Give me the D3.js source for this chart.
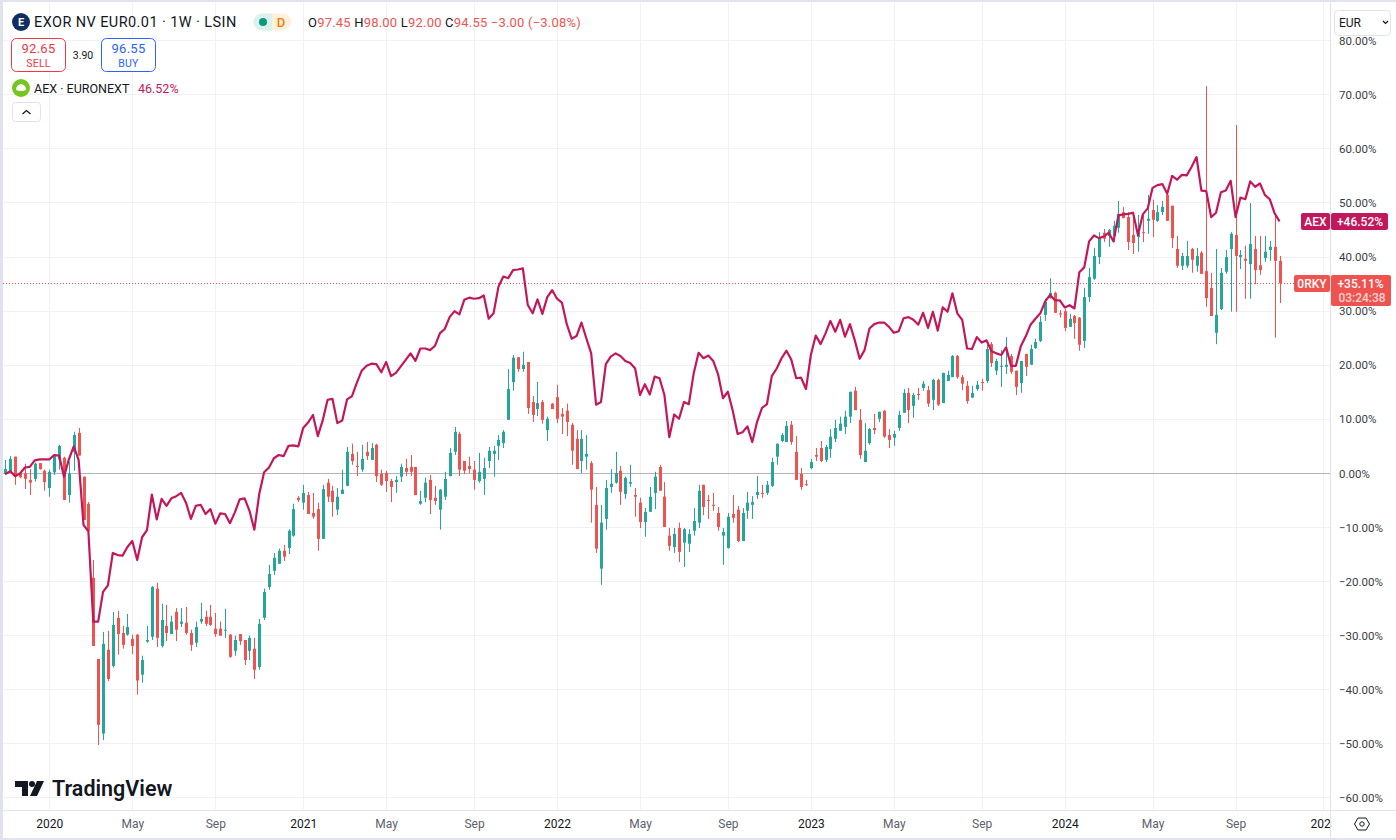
<!DOCTYPE html>
<html>
<head>
<meta charset="utf-8">
<script src="https://cdn.jsdelivr.net/npm/d3@7"></script>
<style>
    html, body { margin: 0; padding: 0; background: #fff; overflow: hidden; }
    svg { display: block; }
    text { font-family: "Roboto", "Liberation Sans", sans-serif; }
</style>
</head>
<body>
<div id="chart"></div>
<script>
// weekly candles, in percent change from the first bar
const opens = [
    -.2,.2,3,0,-.1,-1.3,-1.1,1.8,.4,-2.8,
    .1,2.5,2.8,-4.1,3.9,7.4,-.7,-5.7,-19.4,-34.4,
    -48.2,-32.7,-35.7,-26.8,-29.6,-29.9,-30.7,-29.9,-37.3,-31.2,
    -30.3,-21.4,-32,-28.3,-29.8,-25.7,-27.9,-27.7,-29.6,-31.4,
    -27.5,-26.6,-26.6,-28.8,-28.8,-29.1,-29.9,-32.9,-29.8,-30.9,
    -32.9,-32.5,-35.9,-26.8,-21.1,-18.1,-16.8,-14.4,-13.9,-11.6,
    -4.6,-5.5,-4.1,-7.4,-6.7,-12.2,-1.8,-3.3,-6.8,-3.9,
    -2.4,3.5,1.3,.6,3.9,2.4,5.2,-.2,0,-1.5,
    -1.7,-.7,.9,1.1,1.1,-5.7,-4.6,-1.3,-4.6,-6.8,
    -4.4,-.6,3.9,7.2,2.2,1.3,.6,-1.5,-1.1,2.2,
    3.5,5,5.5,9.8,16.8,21.4,19.2,20.5,13.1,11.8,
    13.1,7.9,12.8,14,10.9,11.5,8.9,6.3,2.2,3,
    1.8,-5.9,-17.7,-8.5,-2.6,-1.8,.4,-3.9,-2,-4.1,
    -5.5,-9.1,-7.2,-3.7,1.1,-4.4,-11.6,-13.7,-10.2,-12.9,
    -13.1,-10.7,-9.2,-2.2,-5,-5.9,-7.4,-11.6,-13.9,-7.6,
    -6.8,-12.6,-7,-5.9,-4.1,-3.7,-3.7,-2.4,3,5.9,
    5.7,8.9,3.9,-.2,-2.1,.9,3.3,4.6,2.4,4.4,
    6.3,7.8,8.5,10.4,15.2,9.8,2,5.5,8.3,10,
    11.5,7,6.5,8.3,11.1,14.8,12.4,14.6,15.7,15.3,
    13.5,17.2,12.9,17,17.7,21.6,17.7,16.1,13.9,15.5,
    16.8,17,23.8,18.9,19.7,19.6,21.6,18.9,16.6,22,
    20,23.1,24.4,29.2,32.3,33.3,29.5,29.9,27,29,
    28.7,24.4,32.5,35.9,39.9,44.4,43.8,43.8,45.3,48.2,
    47.3,44,43.6,44.5,46.6,48.6,46.6,48.2,51.4,49.4,
    41.4,38.3,38.3,41.4,38.3,40.7,37.3,34.2,25.9,30.3,
    37.2,41.4,44,39.9,39.6,38.6,41.4,38.4,39.7,41.2,
    41.8,39.2
];
const highs = [
    2.4,3.1,3,.2,1.7,.7,1.9,1.8,.6,.6,
    3.4,5.2,3,2.1,7.6,8.3,-.7,-5.4,-16.1,-34.4,
    -29.4,-29.2,-25.7,-25.5,-28.3,-26.1,-29.9,-29.8,-33.8,-28.3,
    -20.9,-20.3,-24.2,-24.4,-26.4,-25,-25,-24.8,-29,-27.5,
    -24,-25.5,-24.4,-25.9,-27.5,-25.1,-29.8,-30.1,-29.8,-30.9,
    -30.1,-30.5,-27,-21.4,-17,-14.8,-14,-13.3,-10.4,-5.7,
    -4.3,-2.2,-3.5,-3.7,-5.5,-2.2,-1.1,-2.4,-2.8,.6,
    4.8,5.4,3.9,5.2,5.7,5.5,5.4,.6,.4,-1.1,
    -.6,1.7,2.6,3.3,1.1,-3.3,-.9,-.4,-2.4,-3,
    .2,4.6,8.5,7.6,2.2,3,2.2,3.7,2.8,4.8,
    5,7,7.9,19.2,21.8,21.4,22.4,20.5,14.2,16.8,
    13.5,10.4,12.9,16.3,12,12.8,9.2,7.9,7.9,7,
    2.2,-2.6,-5.9,-1.3,.7,3.9,1.3,-.7,1.5,-2.8,
    -4.6,-6.5,-2.6,.2,1.5,-1.7,-10.2,-10.2,-9.2,-10.2,
    -10.4,-6.5,-2.2,-2.2,-4.1,-3.7,-6.3,-10.2,-7.4,-4.1,
    -6.1,-6.5,-3.5,-4.3,-.6,-2.2,-1.5,2.8,5.4,7.4,
    9.6,9.6,6.8,.9,-1.3,2.6,4.6,5.9,5.2,8.1,
    9.8,10.4,11.5,15,15.9,11.8,9.2,8.3,10.9,11.3,
    11.6,8.1,7.8,11.5,15.5,15.7,14.8,15.7,17,16.1,
    17.4,17.4,18.5,18.9,21.8,21.8,18.1,17,16.1,17,
    17.4,24.2,24.2,21.1,22.7,25.1,22,18.9,20.7,22,
    23.7,24.8,29,32.2,36,33.5,30.1,30.3,29.4,29.2,
    28.8,34.2,37.9,41.6,44.5,45.1,45.1,46.6,50.3,49.2,
    48.2,48.2,47.7,48.2,51.4,50.5,49.5,50.3,52.1,49.4,
    43.8,40.7,42.9,41.6,41.6,41,71.5,37,41.4,37.9,
    41.2,44.5,64.3,41.2,42,49.9,43.8,43.8,43.8,42.9,
    47.9,40.1
];
const lows = [
    -.4,.1,-2.2,-1,-3,-4.1,-1.6,.6,-3.3,-4.4,
    -.4,.6,-5,-5.5,.4,3.2,-8.7,-10.7,-32,-50.3,
    -49.4,-38.5,-36,-33.6,-32.5,-30.1,-33.5,-41,-38.8,-31.4,
    -30.9,-32.2,-32.3,-31.1,-29.8,-31.1,-28.5,-29.9,-32.9,-32.2,
    -27.9,-28.3,-28.3,-30.3,-30.1,-30.5,-34.2,-33.8,-31.8,-35.5,
    -34.6,-38.1,-36.4,-27.2,-21.6,-18.9,-16.8,-16.3,-15,-11.8,
    -5.4,-6.8,-7.6,-8.5,-14.4,-12.2,-5.4,-8.1,-7.8,-3.9,
    -2.4,1.5,-.6,.2,2.4,2.4,-1.7,-2.4,-3.5,-5.4,
    -3.7,-1.7,-.6,-.6,-4.1,-5.9,-5.4,-7.6,-5.9,-10.5,
    -5,-.6,3.3,-.6,-.2,0,-3.1,-1.8,-4.1,.9,
    -.7,2.4,4.6,9.8,15.2,18.7,18.7,10.9,9.4,10.5,
    9.1,5.9,11.8,9.2,7.2,6.8,1.5,.7,0,.6,
    -9.2,-14.8,-20.7,-10.5,-3.7,-2,-5.9,-4.8,-2.6,-8.1,
    -10.2,-11.8,-7.2,-6.7,-3.3,-10,-14.4,-14.8,-16.5,-17.4,
    -14.6,-11.6,-10.2,-7.8,-8.5,-7,-10.7,-17,-14,-9.2,
    -12.8,-12.6,-8.5,-8.5,-4.8,-4.6,-4.1,-2.6,1.5,5.7,
    5.7,5.2,-1.3,-3.1,-2.4,.7,2.2,2,2,2.8,
    5.7,7.8,7.2,9.2,11.6,2.6,2,5.2,7.2,9.4,
    6.5,4.6,5,7.8,11.1,9.2,10.2,13.5,15.2,12.2,
    11.6,12.4,12.9,17,17.7,17.4,15.3,12.8,13.9,15.2,
    15.2,16.6,19.6,18.1,15.9,18.3,18.3,14.4,14.8,17.9,
    20,22.9,24.2,28.1,32.2,29.6,28.7,26.2,27,24.8,
    22.6,23.1,31.6,35.7,38.6,42.7,41.8,42.7,44.4,47.1,
    41.2,40.5,40.9,42.7,44.2,43.6,46.4,47.7,46.6,41.6,
    37.9,37.5,37.9,37,37.2,36.8,30.7,29,23.8,30.1,
    36.8,29.8,29.8,37.7,32.2,32.2,34.9,36.6,39,39.2,
    25,31.4
];
const closes = [
    .7,2.6,-.7,-.8,-1.1,-1.8,1.7,.7,-1.7,.2,
    3.1,5,-5,-.1,7,3.2,-8.7,-10.7,-32,-46.6,
    -31.6,-38.1,-28.1,-29.8,-31.8,-28.5,-32,-38.4,-34.6,-30.9,
    -21.1,-30.5,-27.2,-29.6,-27.5,-29,-27.5,-29.6,-31.8,-28.5,
    -27,-27.9,-28.1,-29.8,-30.1,-29,-34,-30.9,-31.1,-34.6,
    -30.5,-36.4,-27.9,-22,-18.7,-15.7,-14.4,-15.5,-10.7,-6.7,
    -5,-3.7,-7.6,-8.1,-12.2,-3,-4.4,-5.4,-4.4,-3.1,
    3.9,2.2,1.1,2.6,3.1,4.6,-.6,-2.2,-1.5,-2.6,
    -1.3,1.1,.2,.2,-4.1,-5.2,-1.8,-5,-5.2,-3.1,
    -1.1,3.7,7.6,.6,.4,.7,-1.3,.2,.9,4.1,
    4.1,6.1,7.6,15.5,21.3,19.2,20,12,10.7,12.9,
    9.8,10,11.8,10,10.4,9.4,4.1,.7,6.3,3.5,
    -3.1,-14,-9.2,-2.8,-2,0,-3.5,-.9,-1.7,-4.4,
    -9.1,-7.2,-4.4,-.7,-3.3,-10,-13.5,-11.3,-14.6,-10.4,
    -11.3,-8.9,-3.3,-6.3,-5.1,-6.1,-10,-10.9,-8.1,-8.3,
    -12.6,-7.4,-5.5,-5.4,-3.5,-3.9,-2.2,2,5.4,7,
    8.7,5.7,-1.3,-2.6,-2.2,2,3,2.2,4.8,6.7,
    8.3,9.1,10.4,15,11.6,3.3,4.1,8.1,7.9,11.3,
    6.7,6.1,7.2,10.7,14.8,11.6,14.4,14.4,16.5,12.8,
    17.2,12.6,18.5,18.1,21.6,17.7,16.5,13.3,14.8,16.3,
    16.7,22.9,20.3,20.7,19.8,20,18.7,15.9,20.7,19.6,
    22.9,24.2,27.9,31.6,33.3,29.6,29.3,26.8,28.5,27.7,
    23.7,32.5,36.2,40.1,43.4,43.3,44.9,45.7,47.9,47.1,
    42.7,42.5,44.5,44.4,47,46.8,48.2,49.2,46.6,43.4,
    38.3,40.1,40.1,39.4,40.1,36.8,32.3,29,29.2,37,
    39.9,44.2,40.1,40.3,39.2,42.3,37.5,37.5,40.9,41.8,
    39.2,35.1
];
const aex = [
    -.2,.3,-.6,-.1,1,1.1,2.3,2.5,2.5,2.5,
    3.3,3.2,-.7,2.5,4.9,2.4,-9.6,-10.8,-27.5,-27.5,
    -22,-20.8,-14.8,-15.2,-15.3,-13.7,-12.6,-16.1,-11.9,-10.6,
    -4,-8.6,-4.8,-6.1,-4.7,-4.3,-3.7,-5.5,-8.5,-6.1,
    -5.9,-7.6,-6.7,-9.4,-7.5,-7.6,-9.3,-7.3,-4.9,-4.7,
    -7,-10.5,-3.9,.1,1,2.7,3.3,3.1,5,5.1,
    4.9,8.3,9.3,10.7,6.8,9.7,13.5,13.7,9.2,9.7,
    13.6,14.2,16.7,18.9,19.8,20.2,20.1,18.6,20.5,17.9,
    18.5,19.7,20.9,22.1,20.7,23,23,22.7,23.5,25.8,
    26.6,28.8,29.9,29.3,32,32.4,32.2,32.3,32.8,28.5,
    29.5,34.4,36.3,36,37.5,37.6,37.8,31.1,29.5,32.1,
    29.4,32.5,33.8,32.2,31.5,27.5,24.8,25.3,27.8,24.9,
    22.1,12.6,13.1,20.1,21.5,22.1,21.6,20.7,20.3,19.3,
    14.4,16.4,14.5,17.8,17.5,14.4,6.6,10.8,10,13.1,
    12.7,18.4,22.2,21.2,21.7,20.7,18.2,13.8,15,11.5,
    7.2,7.5,8.6,5.7,9.5,12,12.7,17.9,19.3,21.2,
    22.6,20.9,17.5,17.6,15.5,21.8,25.4,23.8,25.8,28.1,
    26.1,28.3,25.2,27.5,24.5,21.1,22.7,26.7,27.5,27.8,
    27.8,27,25.9,26.2,28.6,28.8,28.3,27.4,29.6,26.8,
    29.8,26.3,30.6,29.8,33.2,29.5,28.3,23,22.9,25.1,
    24.1,24.5,22.5,22.1,21.8,23.2,19.8,19.8,23.4,25.2,
    27.4,28.5,29.5,31.7,32.9,31.9,31.9,30.6,31,30.4,
    37.1,38,42.8,43.9,43.4,43.7,44.4,42.8,47.6,47.8,
    47.9,48.1,44,47.8,48.9,52.7,53.2,53.4,51.6,54.9,
    54.2,55.1,55,56.6,58.4,52.2,52.1,47.3,48.1,51.9,
    52.2,54,47.3,50.9,50.6,53.9,52.9,53.5,51.4,50.6,
    48,46.5
];

const yTicks = [80, 70, 60, 50, 40, 30, 20, 10, 0, -10, -20, -30, -40, -50, -60];
const timeTickIdx = [9, 26, 43, 61, 78, 96, 113, 130, 148, 165, 182, 200, 217, 235, 252, 270];
const timeTickLabels = ["2020", "May", "Sep", "2021", "May", "Sep", "2022", "May", "Sep", "2023", "May", "Sep", "2024", "May", "Sep", "2025"];

const upColor = "#26a69a";
const downColor = "#ef5350";
const lineColor = "#c2185b";
const gridColor = "#f1f1f4";
const borderColor = "#e0e3eb";
const textColor = "#131722";

const width = 1396, height = 840;
const paneLeft = 3, paneRight = 1330, paneBottom = 810;

const x = d3.scaleLinear().domain([0, 261]).range([5.4, 1279.5]);
const y = d3.scaleLinear().domain([-60, 80]).range([797.4, 40.2]);
const snap = v => Math.round(v) + 0.5;

const svg = d3.select("#chart").append("svg").attr("width", width).attr("height", height);

svg.append("defs").append("clipPath").attr("id", "pane")
    .append("rect").attr("x", paneLeft).attr("y", 0).attr("width", paneRight - paneLeft).attr("height", paneBottom);
d3.select("defs").append("clipPath").attr("id", "timeClip")
    .append("rect").attr("x", paneLeft).attr("y", paneBottom).attr("width", paneRight - paneLeft + 2).attr("height", 30);

// grid
let grid = svg.append("g").attr("clip-path", "url(#pane)");
grid.selectAll(".vgrid").data(timeTickIdx).enter().append("line")
    .attr("x1", d => snap(x(d))).attr("x2", d => snap(x(d)))
    .attr("y1", 0).attr("y2", paneBottom)
    .attr("stroke", gridColor);
grid.selectAll(".hgrid").data(yTicks).enter().append("line")
    .attr("x1", paneLeft).attr("x2", paneRight)
    .attr("y1", d => snap(y(d))).attr("y2", d => snap(y(d)))
    .attr("stroke", gridColor);

// zero baseline and last price
grid.append("line").attr("x1", paneLeft).attr("x2", paneRight)
    .attr("y1", snap(y(0))).attr("y2", snap(y(0)))
    .attr("stroke", "#b2b5be");
grid.append("line").attr("x1", paneLeft).attr("x2", 1296)
    .attr("y1", snap(y(35.11))).attr("y2", snap(y(35.11)))
    .attr("stroke", downColor).attr("stroke-dasharray", "1 2");

// candles
let candles = svg.append("g").attr("clip-path", "url(#pane)")
    .selectAll("g").data(d3.range(opens.length)).enter().append("g")
    .attr("fill", i => closes[i] >= opens[i] ? upColor : downColor)
    .attr("stroke", "none");
candles.append("rect")
    .attr("x", i => Math.round(x(i)))
    .attr("width", 1)
    .attr("y", i => y(highs[i]))
    .attr("height", i => y(lows[i]) - y(highs[i]));
candles.append("rect")
    .attr("x", i => Math.round(x(i)) - 1)
    .attr("width", 3)
    .attr("y", i => y(Math.max(opens[i], closes[i])))
    .attr("height", i => Math.max(1, Math.abs(y(opens[i]) - y(closes[i]))));

// AEX compare line
let aexLine = d3.line().x((d, i) => x(i)).y(d => y(d));
svg.append("path").datum(aex)
    .attr("clip-path", "url(#pane)")
    .attr("fill", "none").attr("stroke", lineColor).attr("stroke-width", 2.2)
    .attr("stroke-linejoin", "round")
    .attr("d", aexLine);

// price scale
let yAxis = d3.axisRight(y).tickValues(yTicks).tickSize(0).tickPadding(0)
    .tickFormat(d => (d < 0 ? "\u2212" : "") + Math.abs(d).toFixed(2) + "%");
let yG = svg.append("g").attr("transform", "translate(1339,0.5)").call(yAxis);
yG.select(".domain").remove();
yG.selectAll("text").attr("fill", textColor).attr("font-size", 11.5).attr("opacity", 0.86);

// time scale
let xAxis = d3.axisBottom(x).tickValues(timeTickIdx).tickSize(0).tickPadding(0)
    .tickFormat((d, i) => timeTickLabels[i]);
let xG = svg.append("g").attr("clip-path", "url(#timeClip)");
let xInner = xG.append("g").attr("transform", "translate(0,819)").call(xAxis);
xInner.select(".domain").remove();
xInner.selectAll("text")
    .attr("font-size", 12)
    .attr("fill", (d, i) => /^\d/.test(timeTickLabels[i]) ? textColor : "#5d606b");

// frame
svg.append("rect").attr("x", 1331).attr("y", 0).attr("width", 65).attr("height", 37).attr("fill", "#fff");
svg.append("line").attr("x1", paneRight + .5).attr("x2", paneRight + .5).attr("y1", 0).attr("y2", 838).attr("stroke", borderColor);
svg.append("line").attr("x1", paneLeft).attr("x2", width).attr("y1", paneBottom + .5).attr("y2", paneBottom + .5).attr("stroke", borderColor);
svg.append("rect").attr("x", 0).attr("y", 0).attr("width", width).attr("height", 2).attr("fill", borderColor);
svg.append("rect").attr("x", 0).attr("y", 0).attr("width", 3).attr("height", height).attr("fill", borderColor);
svg.append("rect").attr("x", 0).attr("y", 838).attr("width", width).attr("height", 2).attr("fill", borderColor);

// scale labels
function priceLabel(bx, by, bw, bh, fill, lines) {
    svg.append("rect").attr("x", bx).attr("y", by).attr("width", bw).attr("height", bh).attr("rx", 2).attr("fill", fill);
    lines.forEach(l => {
        svg.append("text").attr("x", l.x).attr("y", l.y).attr("fill", l.fill || "#fff")
            .attr("font-size", 12).attr("font-weight", 500).attr("text-anchor", "middle").text(l.t);
    });
}
priceLabel(1301, 213, 29, 17, lineColor, [{ x: 1315.5, y: 226, t: "AEX" }]);
priceLabel(1331, 213, 57, 17, lineColor, [{ x: 1360, y: 226, t: "+46.52%" }]);
priceLabel(1294, 275, 36, 17, downColor, [{ x: 1312, y: 288, t: "0RKY" }]);
priceLabel(1331, 275, 60, 31, downColor, [
    { x: 1360.5, y: 288, t: "+35.11%" },
    { x: 1362, y: 302, t: "03:24:38", fill: "#fbd3d2" }
]);

// currency button
svg.append("rect").attr("x", 1334.5).attr("y", 10.5).attr("width", 56).attr("height", 25).attr("rx", 4)
    .attr("fill", "#fff").attr("stroke", borderColor);
svg.append("text").attr("x", 1339).attr("y", 27).attr("font-size", 12).attr("fill", textColor).text("EUR");
svg.append("path").attr("d", "M1383 21l2.5 2.5 2.5-2.5").attr("fill", "none").attr("stroke", textColor).attr("stroke-width", 1.2);

// settings gear
svg.append("circle").attr("cx", 1362).attr("cy", 824).attr("r", 2.2).attr("fill", "none").attr("stroke", textColor);
svg.append("path").attr("d", "M1358 818h8l3.5 6-3.5 6h-8l-3.5-6z").attr("fill", "none").attr("stroke", textColor).attr("stroke-linejoin", "round");

// legend, first row
svg.append("circle").attr("cx", 21).attr("cy", 22).attr("r", 9).attr("fill", "#0f2f63");
svg.append("text").attr("x", 21).attr("y", 26).attr("text-anchor", "middle").attr("font-size", 11)
    .attr("font-family", "Liberation Serif").attr("font-weight", 700).attr("fill", "#fff").text("E");
svg.append("text").attr("x", 34).attr("y", 27).attr("font-size", 14.5).attr("letter-spacing", 0.42)
    .attr("fill", textColor).text("EXOR NV EUR0.01 \u00b7 1W \u00b7 LSIN");

svg.append("path").attr("d", "M272 13.5h-10a8.5 8.5 0 0 0 0 17h10z").attr("fill", "#daf1ee");
svg.append("path").attr("d", "M272 13.5h10.500a8.5 8.5 0 0 1 0 17h-10.500z").attr("fill", "#fff0dc");
svg.append("circle").attr("cx", 263).attr("cy", 22).attr("r", 4).attr("fill", "#089981");
svg.append("text").attr("x", 281).attr("y", 27).attr("text-anchor", "middle").attr("font-size", 13).attr("font-weight", 500).attr("fill", "#f57c00").text("D");

let ohlc = svg.append("text").attr("x", 308).attr("y", 27).attr("font-size", 13).attr("letter-spacing", 0.2).attr("fill", downColor);
[["O", "97.45"], ["H", "98.00"], ["L", "92.00"], ["C", "94.55"]].forEach(p => {
    ohlc.append("tspan").attr("fill", textColor).text(p[0]);
    ohlc.append("tspan").text(p[1] + " ");
});
ohlc.append("tspan").text("\u22123.00 (\u22123.08%)");

// buy and sell boxes
function tradeBox(bx, color, price, label) {
    svg.append("rect").attr("x", bx + .5).attr("y", 38.5).attr("width", 54).attr("height", 33).attr("rx", 5)
        .attr("fill", "#fff").attr("stroke", color);
    svg.append("text").attr("x", bx + 27.5).attr("y", 53).attr("text-anchor", "middle").attr("font-size", 13).attr("letter-spacing", 0.3).attr("fill", color).text(price);
    svg.append("text").attr("x", bx + 27.5).attr("y", 67).attr("text-anchor", "middle").attr("font-size", 10.5).attr("letter-spacing", 0.2).attr("fill", color).text(label);
}
tradeBox(11, "#f23645", "92.65", "SELL");
tradeBox(101, "#2962ff", "96.55", "BUY");
svg.append("text").attr("x", 83).attr("y", 59).attr("text-anchor", "middle").attr("font-size", 10.5).attr("fill", textColor).text("3.90");

// compare legend
svg.append("circle").attr("cx", 21).attr("cy", 88).attr("r", 9).attr("fill", "#76c520");
svg.append("path").attr("d", "M16 90q0-5 5-6q5 1 5 6q-5 2-10 0z").attr("fill", "#fff");
svg.append("text").attr("x", 34).attr("y", 93).attr("font-size", 12.5).attr("fill", textColor).text("AEX \u00b7 EURONEXT");
svg.append("text").attr("x", 138).attr("y", 93).attr("font-size", 12.5).attr("fill", lineColor).text("46.52%");

svg.append("rect").attr("x", 12.5).attr("y", 102.5).attr("width", 28).attr("height", 19).attr("rx", 3).attr("fill", "#fff").attr("stroke", borderColor);
svg.append("path").attr("d", "M22.500 114l4-3.500 4 3.500").attr("fill", "none").attr("stroke", textColor).attr("stroke-width", 1.3);

// logo
svg.append("path").attr("d", "M15 781h13v15h-6v-9h-7z M37 781h7l-7 15h-7z").attr("fill", textColor);
svg.append("circle").attr("cx", 32).attr("cy", 784).attr("r", 3).attr("fill", textColor);
svg.append("text").attr("x", 52).attr("y", 796).attr("font-family", "Inter").attr("font-size", 21.5).attr("font-weight", 600)
    .attr("fill", textColor).text("TradingView");
</script>
</body>
</html>
